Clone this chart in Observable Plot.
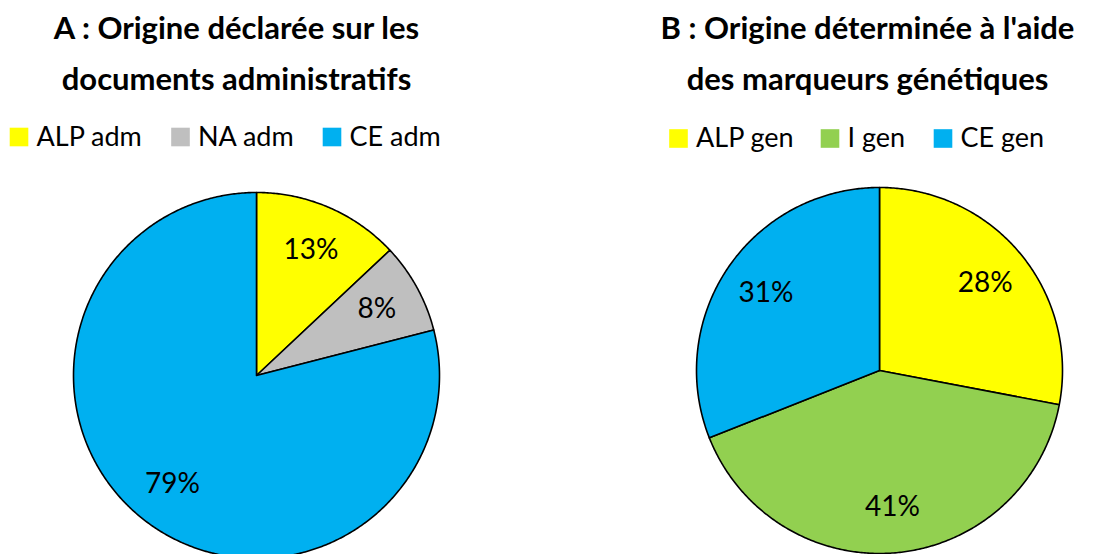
<!DOCTYPE html>
<html>
<head>
<meta charset="utf-8">
<script src="https://cdn.jsdelivr.net/npm/d3@7"></script>
<script src="https://cdn.jsdelivr.net/npm/@observablehq/plot@0.6"></script>
<style>
  html, body { margin: 0; padding: 0; background: #fff; }
</style>
</head>
<body>
<div id="chart"></div>
<script>
// ---- data ----
const titleA = ["A : Origine déclarée sur les", "documents administratifs"];
const titleB = ["B : Origine déterminée à l'aide", "des marqueurs génétiques"];
const categoriesA = ["ALP adm", "NA adm", "CE adm"];
const valuesA = [13, 8, 79];
const categoriesB = ["ALP gen", "I gen", "CE gen"];
const valuesB = [28, 41, 31];

// ---- styles / layout ----
const colorsA = ["#FFFF00", "#BFBFBF", "#00B0F0"];
const colorsB = ["#FFFF00", "#92D050", "#00B0F0"];
const FONT = "Lato, 'Open Sans', 'Liberation Sans', sans-serif";
const W = 1109, H = 554;
const pieA = {cx: 256, cy: 375, r: 183, titleX: 236, legendX: [18.5, 180, 331.5], legendY: 136.5};
const pieB = {cx: 879, cy: 370, r: 183, titleX: 867, legendX: [678, 829.5, 942.5], legendY: 138};
const labelFrac = 0.75;

function buildPie(cats, vals, layout) {
  const total = d3.sum(vals);
  const wedges = [], labels = [];
  let acc = 0;
  cats.forEach((c, i) => {
    const a0 = acc / total * 2 * Math.PI;
    acc += vals[i];
    const a1 = acc / total * 2 * Math.PI;
    const n = Math.max(2, Math.ceil((a1 - a0) / (Math.PI / 360)));
    wedges.push({key: c, cat: c, x: layout.cx, y: layout.cy});
    for (let k = 0; k <= n; k++) {
      const a = a0 + (a1 - a0) * k / n;
      wedges.push({key: c, cat: c, x: layout.cx + layout.r * Math.sin(a), y: layout.cy - layout.r * Math.cos(a)});
    }
    wedges.push({key: c, cat: c, x: layout.cx, y: layout.cy});
    const am = (a0 + a1) / 2;
    labels.push({
      text: vals[i] + "%",
      x: layout.cx + labelFrac * layout.r * Math.sin(am),
      y: layout.cy - labelFrac * layout.r * Math.cos(am)
    });
  });
  return {wedges, labels};
}

const A = buildPie(categoriesA, valuesA, pieA);
const B = buildPie(categoriesB, valuesB, pieB);

const legendItems = [
  ...categoriesA.map((c, i) => ({cat: c, x: pieA.legendX[i], y: pieA.legendY})),
  ...categoriesB.map((c, i) => ({cat: c, x: pieB.legendX[i], y: pieB.legendY}))
];
const titles = [
  ...titleA.map((t, i) => ({text: t, x: pieA.titleX, y: 29 + i * 51})),
  ...titleB.map((t, i) => ({text: t, x: pieB.titleX, y: 29 + i * 51}))
];

const chart = Plot.plot({
  width: W, height: H, margin: 0,
  x: {domain: [0, W], range: [0, W], axis: null},
  y: {domain: [0, H], range: [0, H], axis: null},
  color: {domain: [...categoriesA, ...categoriesB], range: [...colorsA, ...colorsB]},
  style: {fontFamily: FONT, background: "#fff", overflow: "visible"},
  marks: [
    Plot.line([...A.wedges, ...B.wedges], {x: "x", y: "y", z: "key", fill: "cat", stroke: "#000", strokeWidth: 1.6, strokeLinejoin: "round"}),
    Plot.text([...A.labels, ...B.labels], {x: "x", y: "y", text: "text", fontSize: 28, fill: "#000"}),
    Plot.text(titles, {x: "x", y: "y", text: "text", fontSize: 31, fontWeight: "bold", fill: "#000"}),
    Plot.dot(legendItems, {x: "x", y: "y", symbol: "square", r: 10.5, fill: "cat", stroke: null}),
    Plot.text(legendItems, {x: d => d.x + 17.5, y: "y", text: "cat", textAnchor: "start", fontSize: 27, fill: "#000"})
  ]
});
document.getElementById("chart").appendChild(chart);
</script>
</body>
</html>
